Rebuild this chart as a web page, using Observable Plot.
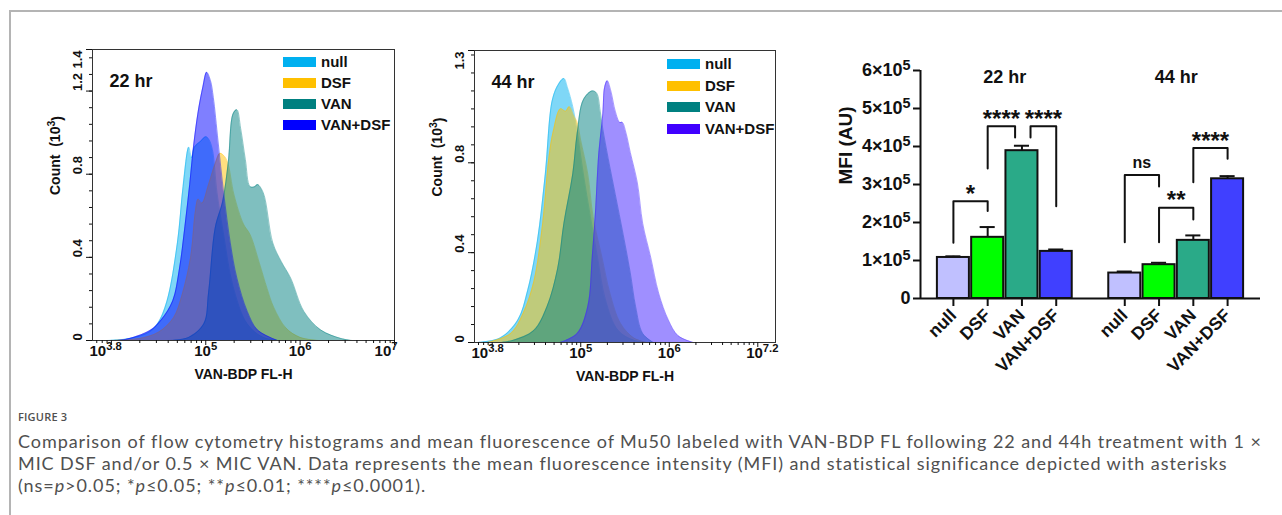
<!DOCTYPE html>
<html><head><meta charset="utf-8">
<script src="https://cdn.jsdelivr.net/npm/d3@7"></script>
<script src="https://cdn.jsdelivr.net/npm/@observablehq/plot@0.6"></script>
<style>
body{margin:0;width:1282px;height:515px;position:relative;background:#fff;overflow:hidden;font-family:"Liberation Sans",Arial,sans-serif}
.abs{position:absolute}
.leg{position:absolute;font:bold 15px "Liberation Sans",Arial,sans-serif;color:#111}
.leg .row{position:absolute;white-space:nowrap;height:10px}
.leg .sw{position:absolute;left:0;top:0;width:33px;height:10px}
.leg .lb{position:absolute;left:38px;top:-4px;line-height:18px}
.cap{position:absolute;left:18px;color:#505050;white-space:nowrap}
</style></head>
<body>
<div class="abs" style="left:9px;top:10px;width:1273px;height:2px;background:#b4b4b4"></div>
<div class="abs" style="left:9px;top:10px;width:2px;height:505px;background:#b4b4b4"></div>
<div id="pa" class="abs" style="left:40px;top:40px"></div>
<div id="pb" class="abs" style="left:420px;top:40px"></div>
<div id="pc" class="abs" style="left:820px;top:55px"></div>
<div class="cap" style="top:409px;font-family:'Open Sans',sans-serif;font-size:11px;font-weight:600;letter-spacing:0.2px">FIGURE 3</div>
<div class="cap" id="capText" style="top:430px;font-family:Lato,'Open Sans',sans-serif;font-size:18px;line-height:22px;font-weight:400">
<div><span id="capLine1">Comparison of flow cytometry histograms and mean fluorescence of Mu50 labeled with VAN-BDP FL following 22 and 44h treatment with 1 ×</span></div>
<div>MIC DSF and/or 0.5 × MIC VAN. Data represents the mean fluorescence intensity (MFI) and statistical significance depicted with asterisks</div>
<div>(ns=<i>p</i>&gt;0.05; *<i>p</i>≤0.05; **<i>p</i>≤0.01; ****<i>p</i>≤0.0001).</div>
</div>
<script>
// ---------- DATA ----------
const seriesNames = ["null", "DSF", "VAN", "VAN+DSF"];
const histColors22 = ["#00b0f0", "#ffc000", "#008080", "#0000ff"];
const histColors44 = ["#00b0f0", "#ffc000", "#008080", "#4020ff"];
const legendColors44 = ["#00b0f0", "#ffc000", "#008080", "#4000ff"];
// histogram outlines: [log10(VAN-BDP FL-H), count (10^3)]
const h22Null = [[3.95,0],[4.2,0.01],[4.4,0.04],[4.49,0.08],[4.59,0.19],[4.70,0.47],[4.76,0.74],[4.82,0.93],[4.85,0.88],[4.88,0.93],[4.95,0.96],[5.0,0.98],[5.03,0.97],[5.07,0.92],[5.12,0.71],[5.19,0.51],[5.29,0.26],[5.44,0.08],[5.61,0.015],[5.8,0]];
const h22Dsf = [[4.0,0],[4.3,0.01],[4.5,0.04],[4.66,0.11],[4.75,0.22],[4.84,0.40],[4.89,0.62],[4.92,0.68],[4.96,0.66],[5.03,0.75],[5.1,0.85],[5.15,0.9],[5.19,0.89],[5.23,0.86],[5.3,0.7],[5.4,0.56],[5.47,0.51],[5.57,0.37],[5.65,0.25],[5.72,0.16],[5.85,0.06],[6.0,0.015],[6.2,0]];
const h22Van = [[4.6,0],[4.82,0.015],[4.98,0.08],[5.03,0.23],[5.1,0.54],[5.18,0.67],[5.24,0.86],[5.29,1.09],[5.33,1.11],[5.37,1.02],[5.42,0.87],[5.47,0.74],[5.52,0.74],[5.55,0.75],[5.61,0.71],[5.71,0.47],[5.80,0.38],[5.90,0.30],[6.04,0.14],[6.22,0.05],[6.43,0.01],[6.55,0]];
const h22VanDsf = [[4.0,0],[4.15,0.005],[4.41,0.048],[4.53,0.1],[4.65,0.19],[4.72,0.34],[4.78,0.55],[4.83,0.75],[4.87,0.93],[4.92,1.1],[4.97,1.22],[5.01,1.29],[5.05,1.25],[5.08,1.17],[5.13,0.96],[5.19,0.71],[5.26,0.47],[5.33,0.30],[5.44,0.14],[5.55,0.05],[5.76,0]];
const h44Null = [[3.83,0],[4.09,0.02],[4.29,0.1],[4.40,0.23],[4.51,0.45],[4.60,0.75],[4.68,1.08],[4.75,1.15],[4.81,1.175],[4.85,1.135],[4.91,1.05],[4.96,0.94],[5.03,0.75],[5.11,0.56],[5.19,0.38],[5.28,0.19],[5.42,0.055],[5.60,0.01],[5.75,0]];
const h44Dsf = [[3.95,0],[4.21,0.04],[4.35,0.13],[4.47,0.27],[4.57,0.53],[4.64,0.82],[4.69,0.94],[4.77,1.04],[4.83,1.03],[4.87,1.05],[4.92,1.01],[4.96,0.98],[5.0,0.9],[5.08,0.75],[5.14,0.56],[5.24,0.38],[5.33,0.22],[5.45,0.085],[5.6,0.02],[5.75,0]];
const h44Van = [[4.1,0],[4.24,0.01],[4.47,0.053],[4.62,0.16],[4.74,0.33],[4.81,0.53],[4.91,0.75],[4.96,0.93],[5.03,1.08],[5.13,1.12],[5.18,1.11],[5.22,1.03],[5.25,0.95],[5.31,0.82],[5.39,0.66],[5.48,0.48],[5.56,0.31],[5.62,0.16],[5.70,0.04],[5.82,0]];
const h44VanDsf = [[4.77,0],[4.96,0.04],[5.08,0.16],[5.13,0.38],[5.17,0.6],[5.20,0.82],[5.25,1.02],[5.27,1.135],[5.30,1.165],[5.34,1.12],[5.39,1.03],[5.44,0.98],[5.47,0.98],[5.51,0.935],[5.56,0.846],[5.64,0.71],[5.70,0.53],[5.79,0.38],[5.88,0.22],[5.99,0.1],[6.10,0.03],[6.27,0]];
// y tick labels of histograms
const yTicks22 = [0, 0.4, 0.8, 1.2, 1.4];
const yTicks44 = [0, 0.4, 0.8, 1.3];
// x tick label exponents
const xExp22 = [3.8, 5, 6, 7];
const xExp44 = [3.8, 5, 6, 7.2];

// bar chart
const barGroups = ["22 hr", "44 hr"];
const barCats = ["null", "DSF", "VAN", "VAN+DSF"];
const barColors = ["#c0c0ff", "#00ff00", "#2aaa88", "#4040ff"];
const mfi22 = [1.08e5, 1.61e5, 3.89e5, 1.24e5];
const err22 = [0.03e5, 0.27e5, 0.13e5, 0.05e5];
const mfi44 = [0.67e5, 0.89e5, 1.53e5, 3.15e5];
const err44 = [0.04e5, 0.05e5, 0.13e5, 0.07e5];
const mfiTicks = [0, 1e5, 2e5, 3e5, 4e5, 5e5, 6e5];
// significance brackets: [fromSlot, toSlot, leftFoot, top, rightFoot, label]
const brackets = [
  [0, 1, 1.47e5, 2.56e5, 2.30e5, "*"],
  [1, 1.8, 3.42e5, 4.53e5, 4.24e5, "****"],
  [2.25, 3, 4.24e5, 4.53e5, 2.43e5, "****"],
  [5, 6, 1.48e5, 3.25e5, 2.95e5, "ns"],
  [6, 7, 1.48e5, 2.39e5, 2.08e5, "**"],
  [7, 8, 3.06e5, 3.96e5, 3.68e5, "****"]
];

// ---------- helpers ----------
const FONT = '"Liberation Sans", Arial, sans-serif';
function supify(svg, size = "72%") {
  d3.select(svg).selectAll("text").each(function () {
    const s = this.textContent;
    if (!s.includes("{")) return;
    const el = d3.select(this);
    this.textContent = "";
    const parts = s.split(/(\{[^}]*\})/).filter(p => p.length);
    let raised = false;
    for (const p of parts) {
      if (p.startsWith("{")) {
        el.append("tspan").attr("dy", "-0.45em").attr("font-size", size).text(p.slice(1, -1));
        raised = true;
      } else {
        const t = el.append("tspan").text(p);
        if (raised) { t.attr("dy", "0.45em"); raised = false; }
      }
    }
  });
}
function legend(container, left, top, colors, step) {
  const d = document.createElement("div");
  d.className = "leg";
  d.style.left = left + "px"; d.style.top = top + "px";
  seriesNames.forEach((n, i) => {
    const r = document.createElement("div");
    r.className = "row"; r.style.top = (i * step) + "px";
    r.innerHTML = `<div class="sw" style="background:${colors[i]}"></div><div class="lb">${n}</div>`;
    d.appendChild(r);
  });
  container.appendChild(d);
}
function histogram({series, colors, yMax, yTicks, xMaxExp, xExp, title, m}) {
  const xMin = 10 ** 3.8, xMax = 10 ** xMaxExp;
  const major = [1e4, 1e5, 1e6, 1e7].filter(v => v <= xMax);
  const minor = [];
  for (let e = 3; e <= 7; e++) for (let k = 2; k <= 9; k++) { const v = k * 10 ** e; if (v >= xMin && v <= xMax) minor.push(v); }
  const yMinor = d3.range(0, yMax + 1e-9, 0.08);
  const areas = [];
  series.forEach((s, i) => {
    areas.push(Plot.areaY(s, {x: d => 10 ** d[0], y: d => d[1], fill: colors[i], fillOpacity: 0.5, curve: "catmull-rom"}));
    areas.push(Plot.lineY(s, {x: d => 10 ** d[0], y: d => d[1], stroke: colors[i], strokeOpacity: 0.55, strokeWidth: 0.8, curve: "catmull-rom"}));
  });
  const top = yTicks[yTicks.length - 1];
  const svg = Plot.plot({
    width: 370, height: 350,
    marginLeft: m[0], marginRight: m[1], marginTop: m[2], marginBottom: m[3],
    style: {fontFamily: FONT, fontWeight: "bold", color: "#111", background: "transparent"},
    x: {type: "log", domain: [xMin, xMax]},
    y: {domain: [0, yMax]},
    marks: [
      ...areas,
      Plot.frame({stroke: "#333", strokeWidth: 1}),
      Plot.axisX({ticks: major, tickSize: 5, tickFormat: () => "", strokeWidth: 1}),
      Plot.axisX({ticks: minor, tickSize: 3, tickFormat: () => "", strokeWidth: 1}),
      Plot.axisY({ticks: yTicks, tickSize: 6, tickFormat: () => "", strokeWidth: 1}),
      Plot.axisY({ticks: yMinor, tickSize: 3, tickFormat: () => "", strokeWidth: 1}),
      Plot.text(xExp, {x: e => 10 ** e, frameAnchor: "bottom", dy: 15, text: e => `10{${e}}`, fontSize: 15, fontWeight: "bold",
        textAnchor: "middle"}),
      Plot.text(yTicks.filter(d => d !== top), {y: d => d, frameAnchor: "left", dx: -15, rotate: -90, text: d => d === 0 ? "0" : d.toFixed(1), fontSize: 13, fontWeight: "bold"}),
      Plot.text([top], {y: d => d, frameAnchor: "left", dx: -15, dy: 1, rotate: -90, textAnchor: "end", text: d => d.toFixed(1), fontSize: 13, fontWeight: "bold"}),
      Plot.text(["Count  (10{3})"], {frameAnchor: "left", dx: -37, rotate: -90, fontSize: 14, fontWeight: "bold"}),
      Plot.text(["VAN-BDP FL-H"], {frameAnchor: "bottom", dy: 38, fontSize: 14, fontWeight: "bold"}),
      Plot.text([title], {frameAnchor: "top-left", dx: 17, dy: 25, textAnchor: "start", fontSize: 18, fontWeight: "bold"})
    ]
  });
  const labels = d3.select(svg).selectAll("text").filter(function(){ return this.textContent.startsWith("10{"); });
  const n = labels.size();
  labels.each(function(_, i){
    if (i === 0) d3.select(this).attr("text-anchor", "start").attr("dx", -3);
    if (i === n - 1) d3.select(this).attr("text-anchor", "end").attr("dx", 3);
  });
  supify(svg, "75%");
  return svg;
}

// ---------- Panel A ----------
const pa = document.getElementById("pa");
pa.appendChild(histogram({series: [h22Null, h22Dsf, h22Van, h22VanDsf], colors: histColors22, yMax: 1.4, yTicks: yTicks22,
  xMaxExp: 7, xExp: xExp22, title: "22 hr", m: [52, 16, 9, 50]}));
legend(pa, 243, 17, histColors22, 21);
// ---------- Panel B ----------
const pb = document.getElementById("pb");
pb.appendChild(histogram({series: [h44Null, h44Dsf, h44Van, h44VanDsf], colors: histColors44, yMax: 1.3, yTicks: yTicks44,
  xMaxExp: 7.2, xExp: xExp44, title: "44 hr", m: [54, 15, 10, 48]}));
legend(pb, 247, 19, legendColors44, 21.7);

// ---------- Panel C ----------
const bars = [];
barCats.forEach((c, j) => bars.push({slot: j, v: mfi22[j], e: mfi22[j] + err22[j], c: barColors[j], name: c}));
barCats.forEach((c, j) => bars.push({slot: j + 5, v: mfi44[j], e: mfi44[j] + err44[j], c: barColors[j], name: c}));
const bw = 0.467, capW = 0.22;
const bracketPts = [];
brackets.forEach((b, k) => {
  bracketPts.push({k, x: b[0], y: b[2]}, {k, x: b[0], y: b[3]}, {k, x: b[1], y: b[3]}, {k, x: b[1], y: b[4]});
});
const stars = brackets.filter(b => b[5] !== "ns");
const nsLabels = brackets.filter(b => b[5] === "ns");
const xDom = [-0.96, 8.96];
const svgC = Plot.plot({
  width: 460, height: 330,
  marginLeft: 100, marginRight: 20, marginTop: 15, marginBottom: 87,
  style: {fontFamily: FONT, fontWeight: "bold", color: "#111", background: "transparent"},
  x: {domain: xDom},
  y: {domain: [0, 6e5]},
  marks: [
    Plot.rectY(bars, {x1: d => d.slot - bw, x2: d => d.slot + bw, y: "v", fill: "c", stroke: "#111", strokeWidth: 2}),
    Plot.ruleX(bars, {x: "slot", y1: "v", y2: "e", stroke: "#111", strokeWidth: 2}),
    Plot.ruleY(bars, {y: "e", x1: d => d.slot - capW, x2: d => d.slot + capW, stroke: "#111", strokeWidth: 2}),
    Plot.line(bracketPts, {x: "x", y: "y", z: "k", stroke: "#111", strokeWidth: 2}),
    Plot.text(stars, {x: b => (b[0] + b[1]) / 2, y: b => b[3], text: b => b[5], dy: -7, fontSize: 24, fontWeight: "bold"}),
    Plot.text(nsLabels, {x: b => (b[0] + b[1]) / 2, y: b => b[3], text: b => b[5], dy: -12, fontSize: 16, fontWeight: "bold"}),
    Plot.ruleX([xDom[0]], {y1: 0, y2: 6e5, stroke: "#111", strokeWidth: 2}),
    Plot.ruleY([0], {x1: xDom[0], x2: xDom[1], stroke: "#111", strokeWidth: 2}),
    Plot.axisY({ticks: mfiTicks, tickSize: 7, tickPadding: 3, strokeWidth: 2, fontSize: 18, fontWeight: "bold",
      tickFormat: d => d === 0 ? "0" : `${d / 1e5}×10{5}`, label: null}),
    Plot.axisX({ticks: bars.map(d => d.slot), tickSize: 8, strokeWidth: 2, tickRotate: -45, fontSize: 17.5, fontWeight: "bold",
      tickFormat: s => bars.find(d => d.slot === s).name, label: null}),
    Plot.text(barGroups, {x: (d, i) => i === 0 ? 1.5 : 6.5, frameAnchor: "top", dy: 0, fontSize: 18, fontWeight: "bold"}),
    Plot.text(["MFI (AU)"], {frameAnchor: "left", dx: -75, rotate: -90, fontSize: 19, fontWeight: "bold"})
  ]
});
supify(svgC, "80%");
document.getElementById("pc").appendChild(svgC);

// fit caption width to the reference's line length with letter spacing
const capEl = document.getElementById("capText");
const line1 = document.getElementById("capLine1");
const lineW = line1.getBoundingClientRect().width;
const nChars = line1.textContent.length;
capEl.style.letterSpacing = Math.max(0, (1244 - lineW) / nChars).toFixed(3) + "px";
</script>
</body></html>
